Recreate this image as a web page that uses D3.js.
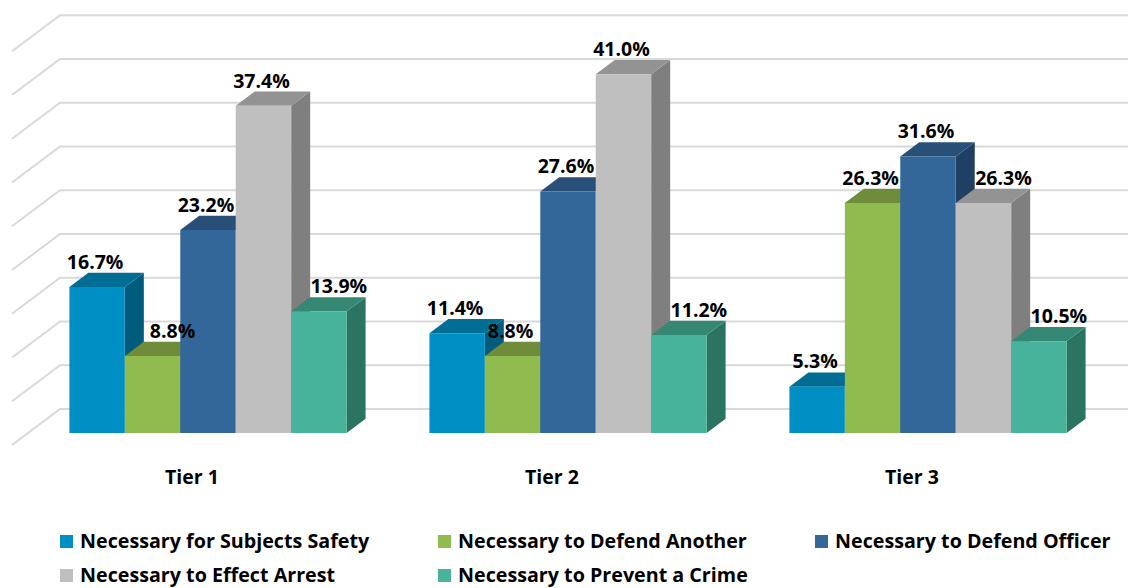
<!DOCTYPE html>
<html>
<head>
<meta charset="utf-8">
<script src="https://cdn.jsdelivr.net/npm/d3@7"></script>
<style>
  html, body { margin: 0; padding: 0; background: #ffffff; }
  svg { display: block; font-family: "Open Sans", "Noto Sans", sans-serif; }
</style>
</head>
<body>
<svg id="chart" width="1128" height="588"></svg>
<script>
// Reasons for use of force, by tier (percent of incidents)
const tiers = ["Tier 1", "Tier 2", "Tier 3"];
const seriesNames = [
  "Necessary for Subjects Safety",
  "Necessary to Defend Another",
  "Necessary to Defend Officer",
  "Necessary to Effect Arrest",
  "Necessary to Prevent a Crime"
];
const subjectsSafety = [16.7, 11.4, 5.3];
const defendAnother  = [8.8, 8.8, 26.3];
const defendOfficer  = [23.2, 27.6, 31.6];
const effectArrest   = [37.4, 41.0, 26.3];
const preventCrime   = [13.9, 11.2, 10.5];
const yTicks = [0, 5, 10, 15, 20, 25, 30, 35, 40, 45];

const seriesValues = [subjectsSafety, defendAnother, defendOfficer, effectArrest, preventCrime];

// face colours per series: front, top, side
const palette = [
  { front: "#008FC4", top: "#006D94", side: "#005B7D" },
  { front: "#8FBB4F", top: "#6E8C3A", side: "#5E7A30" },
  { front: "#336699", top: "#284F77", side: "#1F4063" },
  { front: "#BFBFBF", top: "#939393", side: "#7F7F7F" },
  { front: "#47B39A", top: "#358873", side: "#2C7462" }
];

const svg = d3.select("#chart");

// Front edge of the floor; depth runs back and to the right
const floorLeft = 12, floorRight = 1092;
const depthDX = 48, depthDY = -36;
const barFrontDepth = 1 / 3, barBackDepth = 35 / 48;

const x = d3.scaleBand().domain(tiers).range([floorLeft, floorRight])
  .paddingInner(0.23).paddingOuter(0.115);
const xs = d3.scaleBand().domain(d3.range(seriesNames.length)).range([0, x.bandwidth()]);
const y = d3.scaleLinear().domain([0, 45]).range([445, 51.25]);

// project a point on the front plane (px, value) back by depth fraction d
function proj(px, v, d) {
  return [px + d * depthDX, y(v) + d * depthDY];
}

// Gridlines: slanted on the side wall, horizontal along the back wall
const grid = svg.append("g").attr("fill", "none").attr("stroke", "#D9D9D9").attr("stroke-width", 2);
yTicks.forEach(t => {
  const a = proj(floorLeft, t, 0), b = proj(floorLeft, t, 1), c = proj(floorRight, t, 1);
  grid.append("path").attr("d", `M${a[0]},${a[1]}L${b[0]},${b[1]}L${c[0]},${c[1]}`);
});

// Bars: drawn left to right so each front face hides the previous side face
const barsG = svg.append("g");
const pts = (arr) => arr.map(p => p.join(",")).join(" ");
tiers.forEach((tier, ti) => {
  seriesValues.forEach((vals, si) => {
    const v = vals[ti];
    const x0 = x(tier) + xs(si);
    const x1 = x0 + xs.bandwidth();
    const fTL = proj(x0, v, barFrontDepth), fTR = proj(x1, v, barFrontDepth);
    const fBR = proj(x1, 0, barFrontDepth), fBL = proj(x0, 0, barFrontDepth);
    const bTL = proj(x0, v, barBackDepth), bTR = proj(x1, v, barBackDepth);
    const bBR = proj(x1, 0, barBackDepth);
    const c = palette[si];
    barsG.append("polygon").attr("points", pts([fTR, bTR, bBR, fBR])).attr("fill", c.side);
    barsG.append("polygon").attr("points", pts([fTL, bTL, bTR, fTR])).attr("fill", c.top);
    barsG.append("polygon").attr("points", pts([fTL, fTR, fBR, fBL])).attr("fill", c.front);
  });
});

// Value labels above each column; nudged right when the left neighbour is taller
const labelsG = svg.append("g").attr("font-weight", 700).attr("font-size", 19.5)
  .attr("fill", "#000").attr("text-anchor", "middle");
tiers.forEach((tier, ti) => {
  seriesValues.forEach((vals, si) => {
    const v = vals[ti];
    const x0 = x(tier) + xs(si);
    const cx = proj(x0 + xs.bandwidth() / 2, v, barFrontDepth)[0];
    const leftTaller = si > 0 && seriesValues[si - 1][ti] - v > 3;
    const top = proj(x0, v, barBackDepth);
    labelsG.append("text")
      .attr("x", cx + (leftTaller ? 20 : -2))
      .attr("y", top[1] - 4)
      .text(v.toFixed(1) + "%");
  });
});

// Category labels along the front edge of the floor
svg.append("g").attr("font-weight", 700).attr("font-size", 19.5).attr("text-anchor", "middle")
  .selectAll("text").data(tiers).join("text")
  .attr("x", d => x(d) + x.bandwidth() / 2)
  .attr("y", 484)
  .text(d => d);

// Legend: three columns, two rows
const legendCols = [60, 438, 815];
const legendRows = [548, 582];
const legend = svg.append("g").attr("font-weight", 700).attr("font-size", 19.7);
seriesNames.forEach((name, i) => {
  const lx = legendCols[i % 3], ly = legendRows[Math.floor(i / 3)];
  legend.append("rect").attr("x", lx).attr("y", ly - 13).attr("width", 13).attr("height", 13)
    .attr("fill", palette[i].front);
  legend.append("text").attr("x", lx + 20).attr("y", ly).text(name);
});
</script>
</body>
</html>
